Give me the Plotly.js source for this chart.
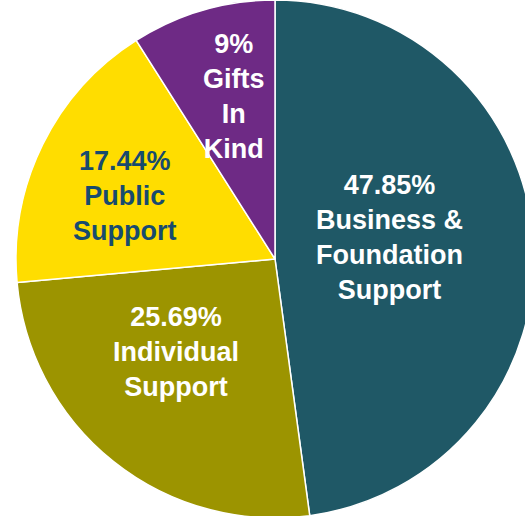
<!DOCTYPE html>
<html>
<head>
<meta charset="utf-8">
<script src="https://cdn.plot.ly/plotly-3.0.1.min.js"></script>
<style>
html,body{margin:0;padding:0;overflow:hidden;background:#fff;}
#chart{width:550px;height:518px;}
</style>
</head>
<body>
<div id="chart"></div>
<script>
const categories = ["Business &<br>Foundation<br>Support", "Individual<br>Support", "Public<br>Support", "Gifts<br>In<br>Kind"];
const values = [47.85, 25.69, 17.44, 9];
const valueLabels = ["47.85%", "25.69%", "17.44%", "9%"];
const sliceColors = ["#1F5866", "#9C9400", "#FFDD00", "#6E2A85"];
const textColors = ["#FFFFFF", "#FFFFFF", "#174B6E", "#FFFFFF"];

// label anchor positions (paper fractions) — layout only
const labelPos = [[0.709, 0.541], [0.320, 0.321], [0.2255, 0.622], [0.4255, 0.813]];

const texts = categories.map((c, i) => valueLabels[i] + "<br>" + c);

const annotations = texts.map((t, i) => ({
  text: t,
  xref: "paper", yref: "paper",
  x: labelPos[i][0], y: labelPos[i][1],
  xanchor: "center", yanchor: "middle",
  showarrow: false,
  align: "center",
  font: {family: "Liberation Sans, Arial, sans-serif", size: 27, color: textColors[i], weight: "bold"}
}));

Plotly.newPlot("chart", [{
  type: "pie",
  values: values,
  labels: categories,
  textinfo: "none",
  sort: false,
  direction: "clockwise",
  rotation: 0,
  marker: {colors: sliceColors, line: {color: "#FFFFFF", width: 1.5}},
  hoverinfo: "none",
  domain: {x: [0, 1], y: [0, 1]}
}], {
  width: 550,
  height: 518,
  margin: {l: 0, r: 0, t: 0, b: 0, pad: 0},
  showlegend: false,
  paper_bgcolor: "#FFFFFF",
  annotations: annotations
}, {staticPlot: true});
</script>
</body>
</html>
